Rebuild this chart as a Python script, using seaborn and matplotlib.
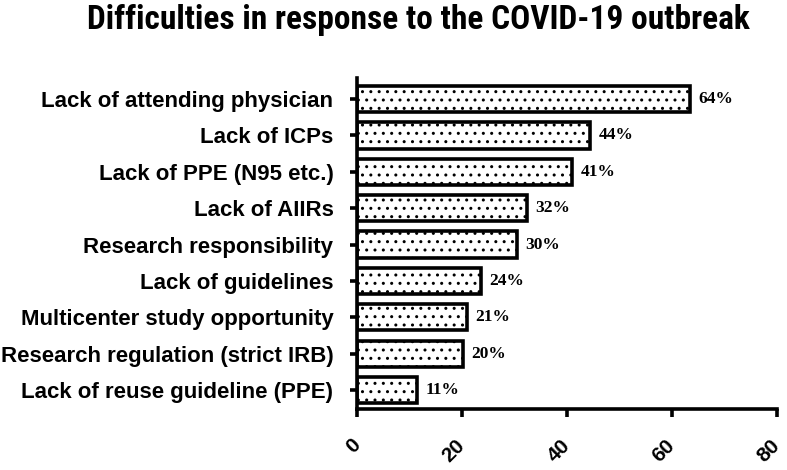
import matplotlib
matplotlib.use("Agg")
import matplotlib.pyplot as plt
import seaborn as sns
import pandas as pd
from matplotlib import font_manager

categories = [
    "Lack of attending physician",
    "Lack of ICPs",
    "Lack of PPE (N95 etc.)",
    "Lack of AIIRs",
    "Research responsibility",
    "Lack of guidelines",
    "Multicenter study opportunity",
    "Research regulation (strict IRB)",
    "Lack of reuse guideline (PPE)",
]
values = [63.5, 44.4, 41.0, 32.3, 30.5, 23.6, 20.9, 20.2, 11.4]
value_labels = ["64%", "44%", "41%", "32%", "30%", "24%", "21%", "20%", "11%"]
xticks = [0, 20, 40, 60, 80]
title = "Difficulties in response to the COVID-19 outbreak"

df = pd.DataFrame({"category": categories, "value": values})

sns.set_style("white")
plt.rcParams["font.family"] = ["Liberation Sans", "DejaVu Sans"]
plt.rcParams["hatch.linewidth"] = 1.0
for k in ["text.color", "xtick.color", "ytick.color", "axes.labelcolor", "axes.edgecolor"]:
    plt.rcParams[k] = "black"

names = {f.name for f in font_manager.fontManager.ttflist}
title_family = ["Liberation Sans"]
for cand in ["Liberation Sans Narrow", "Roboto Condensed", "Open Sans Condensed",
             "DejaVu Sans Condensed"]:
    if cand in names:
        title_family = [cand]
        break

fig = plt.figure(figsize=(7.87, 4.70), dpi=100)
ax = fig.add_axes([357 / 787, 1 - 409 / 470, (777 - 357) / 787, (409 - 78) / 470])

sns.barplot(data=df, x="value", y="category", orient="h", ax=ax,
            color="white", edgecolor="black", linewidth=2.6, width=0.72,
            saturation=1)
for p in ax.patches:
    p.set_hatch("..")
    p.set_facecolor("white")
    p.set_edgecolor("black")

for i, (v, lab) in enumerate(zip(values, value_labels)):
    ax.annotate(lab, xy=(v, i), xytext=(6, 0), textcoords="offset points",
                ha="left", va="center", fontsize=12.5, fontweight="bold",
                family=["Liberation Serif", "DejaVu Serif"], color="black")

ax.set_xlim(0, 80)
ax.set_ylim(8.52, -0.58)
ax.set_xticks(xticks)
ax.set_xticklabels([str(t) for t in xticks], rotation=45, ha="right", va="center",
                   rotation_mode="anchor", fontsize=15, fontweight="bold")
ax.set_xlabel("")
ax.set_ylabel("")
for lab in ax.get_yticklabels():
    lab.set_fontsize(16)
    lab.set_fontweight("bold")

for s in ["top", "right"]:
    ax.spines[s].set_visible(False)
for s in ["left", "bottom"]:
    ax.spines[s].set_linewidth(2.6)
    ax.spines[s].set_color("black")
ax.tick_params(axis="y", which="both", left=True, length=5, width=2.6, pad=12)
ax.tick_params(axis="x", which="both", bottom=True, length=6, width=2.6, pad=18)

fig.text(418 / 787, 1 - 20 / 470, title, ha="center", va="center",
         fontsize=24, fontweight="bold", family=title_family, color="black")

fig.savefig("out.png", dpi=100)
